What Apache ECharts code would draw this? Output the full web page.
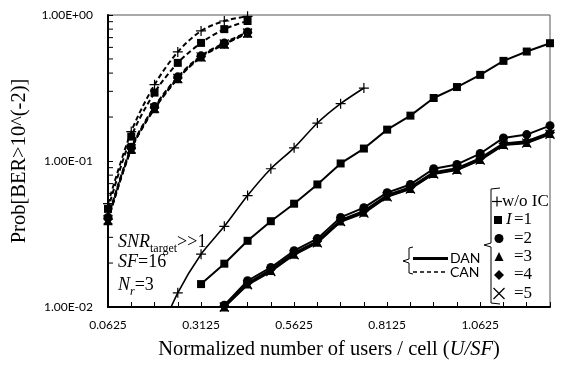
<!DOCTYPE html>
<html><head><meta charset="utf-8">
<script src="https://cdn.jsdelivr.net/npm/echarts@6/dist/echarts.min.js"></script>
<style>html,body{margin:0;padding:0;background:#fff}#c{width:565px;height:365px}</style>
</head><body><div id="c"></div>
<script>
// ---- data ----
const xCAN = [0.0625, 0.125, 0.1875, 0.25, 0.3125, 0.375, 0.4375];
const canWoIC = [0.051, 0.159, 0.333, 0.559, 0.778, 0.91, 0.98];
const canI1   = [0.047, 0.147, 0.294, 0.470, 0.644, 0.80, 0.91];
const canI2   = [0.041, 0.124, 0.236, 0.377, 0.525, 0.644, 0.765];
const canI3   = [0.039, 0.120, 0.228, 0.366, 0.515, 0.630, 0.750];
const canI4   = [0.040, 0.122, 0.232, 0.370, 0.520, 0.636, 0.757];
const canI5   = [0.0395, 0.121, 0.230, 0.368, 0.517, 0.633, 0.753];

const xDanWoIC = [0.1875, 0.25, 0.3125, 0.375, 0.4375, 0.5, 0.5625, 0.625, 0.6875, 0.75];
const danWoIC  = [0.0055, 0.0125, 0.0230, 0.0357, 0.058, 0.0885, 0.123, 0.182, 0.247, 0.316];

const xDanI1 = [0.3125, 0.375, 0.4375, 0.5, 0.5625, 0.625, 0.6875, 0.75, 0.8125, 0.875, 0.9375, 1.0, 1.0625, 1.125, 1.1875, 1.25];
const danI1  = [0.01435, 0.0198, 0.0284, 0.0387, 0.0510, 0.0691, 0.0962, 0.1217, 0.164, 0.2045, 0.270, 0.321, 0.389, 0.485, 0.562, 0.641];

const xDanI2to5 = [0.375, 0.4375, 0.5, 0.5625, 0.625, 0.6875, 0.75, 0.8125, 0.875, 0.9375, 1.0, 1.0625, 1.125, 1.1875, 1.25];
const danI2 = [0.0103, 0.01513, 0.01866, 0.0243, 0.0294, 0.0411, 0.0479, 0.0607, 0.0691, 0.0885, 0.0947, 0.1125, 0.1439, 0.1517, 0.1747];
const danI3 = [0.0100, 0.01435, 0.01775, 0.0230, 0.0278, 0.0388, 0.0445, 0.0573, 0.0649, 0.0822, 0.0875, 0.1024, 0.1297, 0.1337, 0.154];
const danI4 = [0.0101, 0.0146, 0.0181, 0.0235, 0.0283, 0.0395, 0.0455, 0.0585, 0.0662, 0.0838, 0.0893, 0.1045, 0.1320, 0.1365, 0.157];
const danI5 = [0.0100, 0.0142, 0.0175, 0.0228, 0.0275, 0.0384, 0.0440, 0.0568, 0.0643, 0.0815, 0.0868, 0.1015, 0.1285, 0.1325, 0.1525];

const xTickLabels = ['0.0625', '0.3125', '0.5625', '0.8125', '1.0625'];
const yTickLabels = ['1.00E-02', '1.00E-01', '1.00E+00'];
const yMinorTicks = [0.02, 0.03, 0.04, 0.05, 0.06, 0.07, 0.08, 0.09, 0.2, 0.3, 0.4, 0.5, 0.6, 0.7, 0.8, 0.9];

// ---- styling ----
const SERIF = 'Liberation Serif';
const SANS = 'Lato';
const PLUS = 'path://M0,-5L0,5M-5,0L5,0';
const CROSS = 'path://M-5,-5L5,5M-5,5L5,-5';

function zip(xs, ys) { return xs.map((x, i) => [x, ys[i]]); }

function mk(name, xs, ys, symbol, size, dashed, stroked, width, smooth) {
  return {
    type: 'line', name: name, data: zip(xs, ys),
    symbol: symbol, symbolSize: size, smooth: smooth || false,
    lineStyle: { color: '#000', width: width || 2, type: dashed ? [5, 3] : 'solid' },
    itemStyle: stroked ? { color: 'rgba(0,0,0,0)', borderColor: '#000', borderWidth: 1.2 }
                       : { color: '#000', borderWidth: 0 },
    emphasis: { disabled: true }, silent: true, animation: false, z: 3
  };
}

const series = [
  mk('CAN w/o IC', xCAN, canWoIC, PLUS, 10, true, true, 2, 0.3),
  mk('CAN I=1', xCAN, canI1, 'rect', 8, true, false, 2, 0.3),
  mk('CAN I=2', xCAN, canI2, 'circle', 9, true, false, 2, 0.3),
  mk('CAN I=3', xCAN, canI3, 'triangle', 9, true, false, 2, 0.3),
  mk('CAN I=4', xCAN, canI4, 'diamond', 10, true, false, 2, 0.3),
  mk('CAN I=5', xCAN, canI5, CROSS, 9, true, true, 2, 0.3),
  mk('DAN w/o IC', xDanWoIC, danWoIC, PLUS, 10, false, true, 1.6, 0.25),
  mk('DAN I=1', xDanI1, danI1, 'rect', 8, false, false, 2),
  mk('DAN I=2', xDanI2to5, danI2, 'circle', 9, false, false, 2),
  mk('DAN I=3', xDanI2to5, danI3, 'triangle', 9, false, false, 2),
  mk('DAN I=4', xDanI2to5, danI4, 'diamond', 10, false, false, 2),
  mk('DAN I=5', xDanI2to5, danI5, CROSS, 9, false, true, 2),
  {
    type: 'custom', name: 'minor', silent: true, clip: false, z: 5,
    data: yMinorTicks.map(v => [0.0625, v]),
    renderItem: function (params, api) {
      const p = api.coord([api.value(0), api.value(1)]);
      return { type: 'line', shape: { x1: p[0], y1: p[1], x2: p[0] + 5, y2: p[1] },
               style: { stroke: '#000', lineWidth: 1 } };
    }
  }
];

const legendTxt = { fill: '#000', font: '17px "' + SERIF + '"', verticalAlign: 'middle' };

const graphic = [
  // right legend bracket
  { type: 'polyline', shape: { points: [[500, 188], [491, 189], [491, 243], [484, 245], [491, 247], [491, 303], [500, 304]] },
    style: { stroke: '#000', lineWidth: 1, fill: null } },
  { type: 'line', shape: { x1: 492, y1: 201.5, x2: 502, y2: 201.5 }, style: { stroke: '#000', lineWidth: 1.2 } },
  { type: 'line', shape: { x1: 497, y1: 196.5, x2: 497, y2: 206.5 }, style: { stroke: '#000', lineWidth: 1.2 } },
  { type: 'text', x: 502, y: 201.5, style: Object.assign({ text: 'w/o IC' }, legendTxt) },
  { type: 'rect', shape: { x: 494, y: 216, width: 8, height: 8 }, style: { fill: '#000' } },
  { type: 'text', x: 506, y: 220, style: Object.assign({}, legendTxt, { text: 'I', font: 'italic 17px "' + SERIF + '"' }) },
  { type: 'text', x: 514, y: 220, style: Object.assign({ text: '=1' }, legendTxt) },
  { type: 'circle', shape: { cx: 499, cy: 238.5, r: 4.5 }, style: { fill: '#000' } },
  { type: 'text', x: 514, y: 238.5, style: Object.assign({ text: '=2' }, legendTxt) },
  { type: 'polygon', shape: { points: [[499, 252], [503.5, 261], [494.5, 261]] }, style: { fill: '#000' } },
  { type: 'text', x: 514, y: 257, style: Object.assign({ text: '=3' }, legendTxt) },
  { type: 'polygon', shape: { points: [[499, 270], [504, 275], [499, 280], [494, 275]] }, style: { fill: '#000' } },
  { type: 'text', x: 514, y: 275, style: Object.assign({ text: '=4' }, legendTxt) },
  { type: 'line', shape: { x1: 493.5, y1: 288, x2: 504.5, y2: 299 }, style: { stroke: '#000', lineWidth: 1.3 } },
  { type: 'line', shape: { x1: 493.5, y1: 299, x2: 504.5, y2: 288 }, style: { stroke: '#000', lineWidth: 1.3 } },
  { type: 'text', x: 514, y: 293.5, style: Object.assign({ text: '=5' }, legendTxt) },
  // DAN / CAN legend
  { type: 'polyline', shape: { points: [[413, 247], [409, 248], [409, 259], [403, 261], [409, 263], [409, 273], [413, 274]] },
    style: { stroke: '#000', lineWidth: 1, fill: null } },
  { type: 'line', shape: { x1: 413, y1: 258.5, x2: 448, y2: 258.5 }, style: { stroke: '#000', lineWidth: 3 } },
  { type: 'line', shape: { x1: 413, y1: 272, x2: 448, y2: 272 }, style: { stroke: '#000', lineWidth: 1.6, lineDash: [4, 3] } },
  { type: 'text', x: 450, y: 258.5, style: { text: 'DAN', fill: '#000', font: '14px "' + SANS + '"', verticalAlign: 'middle' } },
  { type: 'text', x: 450, y: 272, style: { text: 'CAN', fill: '#000', font: '14px "' + SANS + '"', verticalAlign: 'middle' } },
  // annotation
  { type: 'text', x: 118, y: 241, style: {
      text: '{i|SNR}{s|target}{n|>>1}', verticalAlign: 'middle',
      rich: {
        i: { fontFamily: SERIF, fontStyle: 'italic', fontSize: 18, lineHeight: 20, fill: '#000', verticalAlign: 'bottom' },
        s: { fontFamily: SERIF, fontSize: 12, lineHeight: 13, fill: '#000', verticalAlign: 'bottom', padding: [0, 0, -4, 0] },
        n: { fontFamily: SERIF, fontSize: 18, lineHeight: 20, fill: '#000', verticalAlign: 'bottom' }
      } } },
  { type: 'text', x: 118, y: 262, style: {
      text: '{i|SF}{n|=16}', verticalAlign: 'middle',
      rich: {
        i: { fontFamily: SERIF, fontStyle: 'italic', fontSize: 18, lineHeight: 20, fill: '#000' },
        n: { fontFamily: SERIF, fontSize: 18, lineHeight: 20, fill: '#000' }
      } } },
  { type: 'text', x: 118, y: 284, style: {
      text: '{i|N}{s|r}{n|=3}', verticalAlign: 'middle',
      rich: {
        i: { fontFamily: SERIF, fontStyle: 'italic', fontSize: 18, lineHeight: 20, fill: '#000', verticalAlign: 'bottom' },
        s: { fontFamily: SERIF, fontStyle: 'italic', fontSize: 12, lineHeight: 13, fill: '#000', verticalAlign: 'bottom', padding: [0, 0, -4, 0] },
        n: { fontFamily: SERIF, fontSize: 18, lineHeight: 20, fill: '#000', verticalAlign: 'bottom' }
      } } }
];

const chart = echarts.init(document.getElementById('c'), null, { renderer: 'canvas' });
chart.setOption({
  animation: false,
  backgroundColor: '#fff',
  grid: { left: 108, right: 15, top: 15, bottom: 57, show: true, borderColor: '#555', borderWidth: 1, backgroundColor: 'transparent' },
  xAxis: {
    type: 'value', min: 0.0625, max: 1.25, interval: 0.0625,
    axisLine: { onZero: false, lineStyle: { color: '#000', width: 2 } },
    axisTick: { inside: true, length: 5, lineStyle: { color: '#000', width: 1 } },
    splitLine: { show: false },
    axisLabel: {
      interval: 0, margin: 12, color: '#000', fontFamily: SANS, fontSize: 12,
      formatter: function (v) {
        const hit = xTickLabels.find(t => Math.abs(Number(t) - v) < 1e-6);
        return hit || '';
      }
    },
    name: 'Normalized number of users / cell ({i|U/SF})',
    nameLocation: 'middle', nameGap: 32,
    nameTextStyle: { fontFamily: SERIF, fontSize: 20.5, color: '#000',
      rich: { i: { fontFamily: SERIF, fontStyle: 'italic', fontSize: 20.5, color: '#000' } } }
  },
  yAxis: {
    type: 'log', logBase: 10, min: 0.01, max: 1,
    axisLine: { lineStyle: { color: '#000', width: 2 } },
    axisTick: { inside: true, length: 5, lineStyle: { color: '#000', width: 1 } },
    splitLine: { show: false },
    axisLabel: {
      margin: 15, color: '#000', fontFamily: SANS, fontSize: 12,
      formatter: function (v) {
        const idx = Math.round(Math.log10(v)) + 2;
        return yTickLabels[idx] || '';
      }
    },
    name: 'Prob[BER>10^(-2)]',
    nameLocation: 'middle', nameGap: 77,
    nameTextStyle: { fontFamily: SERIF, fontSize: 20.5, color: '#000' }
  },
  series: series,
  graphic: graphic
});
</script>
</body></html>
